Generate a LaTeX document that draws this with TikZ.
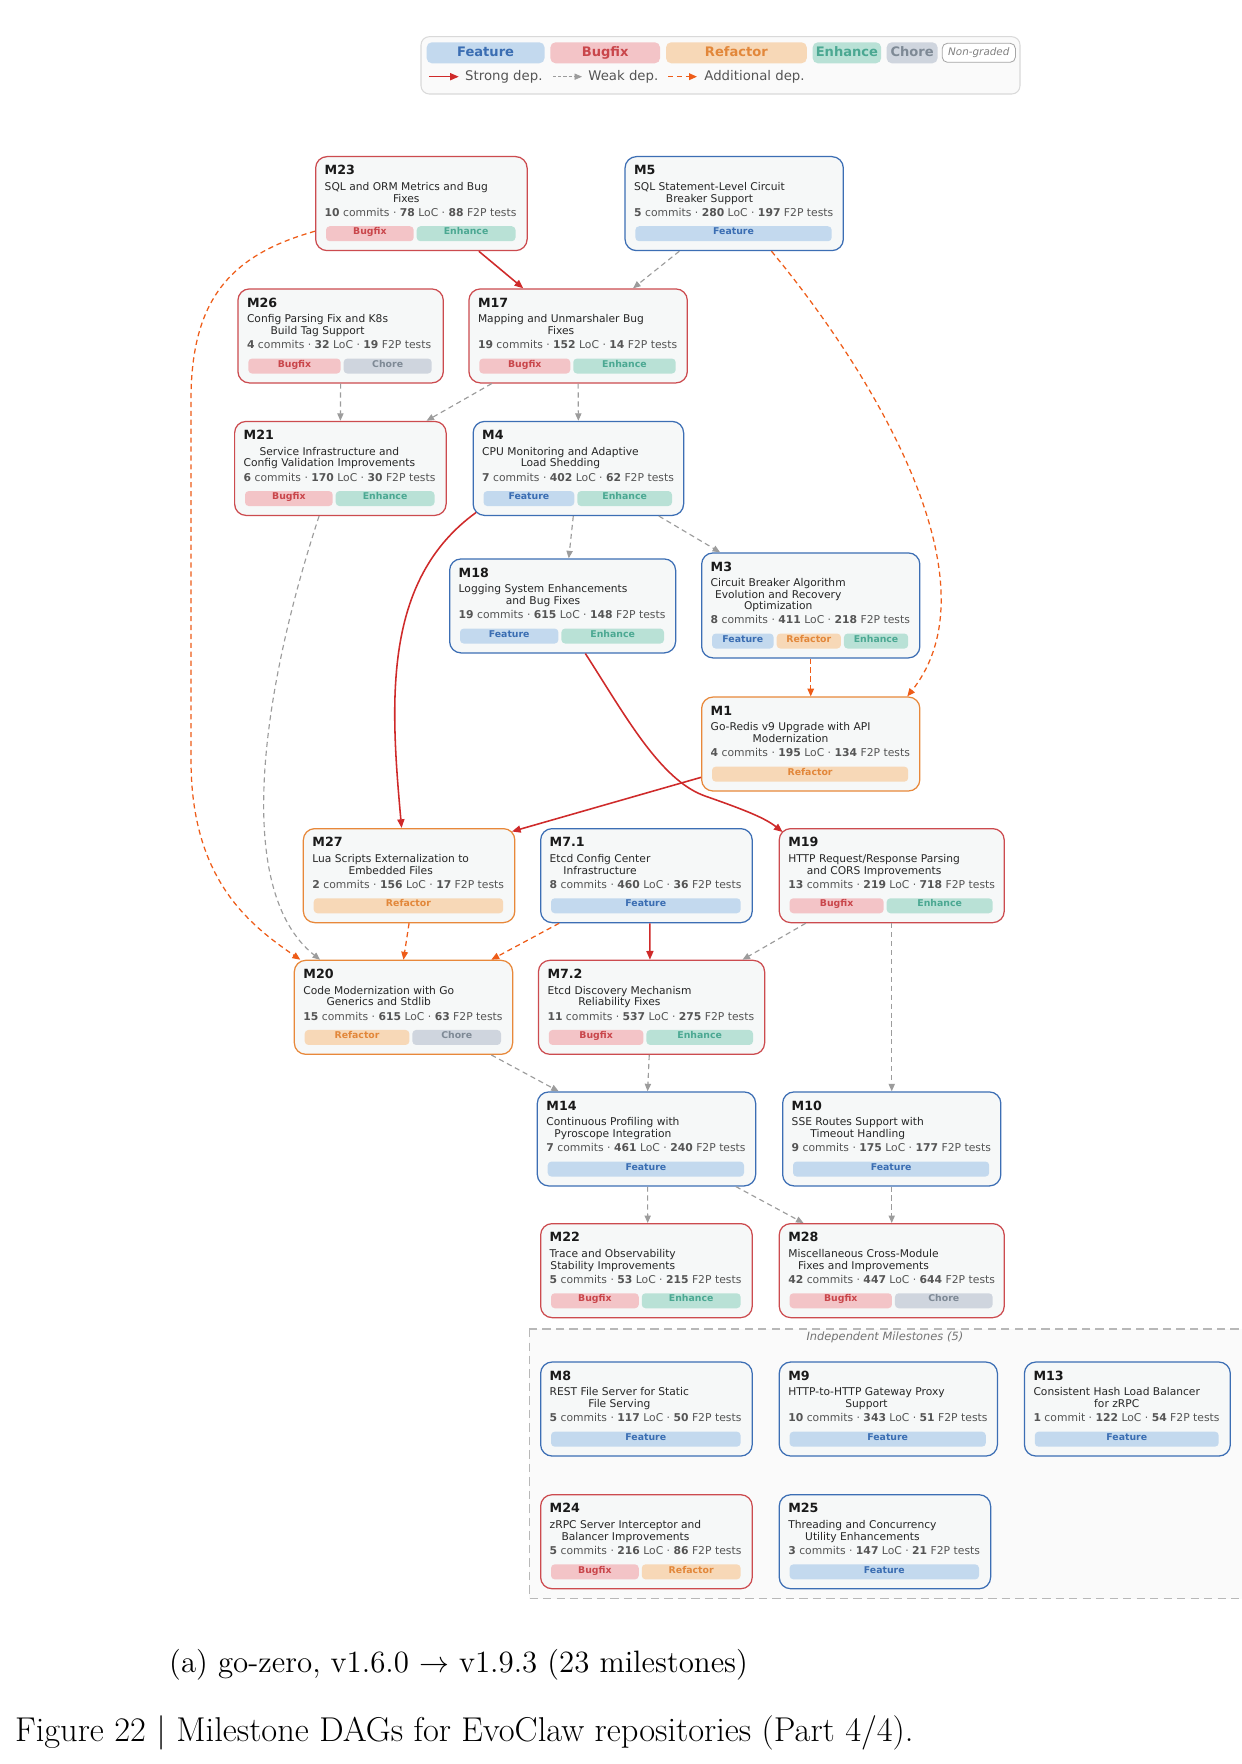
\documentclass[tikz,border=0pt]{standalone}
\usepackage{fontspec}
\newfontfamily\djv{DejaVu Sans}
\usetikzlibrary{arrows.meta,calc}

\definecolor{bFeature}{HTML}{3C6EB4}
\definecolor{bBugfix}{HTML}{CC4B4F}
\definecolor{bRefactor}{HTML}{E8883A}
\definecolor{fFeature}{HTML}{C3D9EE}
\definecolor{fBugfix}{HTML}{F3C4C7}
\definecolor{fRefactor}{HTML}{F7D8B7}
\definecolor{fEnhance}{HTML}{B9E1D6}
\definecolor{fChore}{HTML}{CFD5DE}
\definecolor{tFeature}{HTML}{3A6DB2}
\definecolor{tBugfix}{HTML}{C9464B}
\definecolor{tRefactor}{HTML}{E2873A}
\definecolor{tEnhance}{HTML}{4BA892}
\definecolor{tChore}{HTML}{7E8995}
\definecolor{boxfill}{HTML}{F6F8F8}
\definecolor{cStrong}{HTML}{CF2A2A}
\definecolor{cWeak}{HTML}{9C9C9C}
\definecolor{cAdd}{HTML}{EE5C18}
\definecolor{txtgray}{HTML}{555555}

\newcommand{\px}{0.4818pt}
\newcommand{\wFeature}{9.4}
\newcommand{\wBugfix}{8.7}
\newcommand{\wRefactor}{9.8}
\newcommand{\wEnhance}{9.8}
\newcommand{\wChore}{8.3}
\newcommand{\st}[4][commits]{\textbf{#2} #1 · \textbf{#3} LoC · \textbf{#4} F2P tests}
% height, name, top-left corner, width, kind, label, title, stats, tags
\newcommand{\milestone}[9][94]{%
  \node[msbox, draw=b#5, minimum width=#4*\px, minimum height=#1*\px] (#2) at (#3) {};
  \node[msid] at ([shift={(9.3,18.8)}]#2.north west) {#6};
  \node[mstitle] at ([shift={(9.3,34.5)}]#2.north west) {\begin{tabular}[t]{@{}c@{}}#7\end{tabular}};
  \node[msstat] at ([shift={(9.3,-34.8)}]#2.south west) {#8};
  \gdef\wsum{0}\gdef\ntags{0}%
  \foreach \tg in {#9}{\edef\wt{\csname w\tg\endcsname}\pgfmathparse{\wsum+\wt}\xdef\wsum{\pgfmathresult}\pgfmathparse{\ntags+1}\xdef\ntags{\pgfmathresult}}%
  \pgfmathsetmacro\avail{#4-22-3*(\ntags-1)}%
  \gdef\xpos{11}%
  \foreach \tg in {#9}{%
    \edef\wt{\csname w\tg\endcsname}%
    \pgfmathsetmacro\pw{\avail*\wt/\wsum}%
    \fill[pill=\tg] ([shift={(\xpos,-25)}]#2.south west) rectangle ++(\pw,15);
    \node[pilltext=\tg] at ([shift={({\xpos+\pw/2},-16.3)}]#2.south west) {\tg};
    \pgfmathparse{\xpos+\pw+3}\xdef\xpos{\pgfmathresult}}%
}

\begin{document}
\begin{tikzpicture}[x=0.4818pt, y=-0.4818pt,
  msbox/.style={rectangle, rounded corners=5.5pt, fill=boxfill, line width=0.6pt, anchor=north west, inner sep=0pt},
  msid/.style={anchor=base west, inner sep=0pt, font=\djv\bfseries\fontsize{6.1}{7}\selectfont, text=black!90},
  mstitle/.style={anchor=base west, inner sep=0pt, font=\djv\fontsize{5.15}{5.5}\selectfont, text=black!85},
  msstat/.style={anchor=base west, inner sep=0pt, font=\djv\fontsize{5.2}{6}\selectfont, text=txtgray},
  pill/.style={fill=f#1, rounded corners=1.8pt},
  pilltext/.style={anchor=base, inner sep=0pt, text=t#1, font=\djv\bfseries\fontsize{4.5}{5}\selectfont},
  legpill/.style={fill=f#1, text=t#1, rounded corners=2.5pt, minimum height=21*\px, inner sep=0pt, text height=4.6pt, text depth=1.2pt, font=\djv\bfseries\fontsize{6.3}{7}\selectfont},
  legtext/.style={anchor=west, inner sep=0pt, text=txtgray, font=\djv\fontsize{6.4}{7}\selectfont},
  sdep/.style={draw=cStrong, line width=0.75pt, -{Triangle[length=4.2pt,width=3.4pt]}},
  wdep/.style={draw=cWeak, line width=0.55pt, dash pattern=on 2.5pt off 1.8pt, -{Triangle[length=3.6pt,width=3pt]}},
  adep/.style={draw=cAdd, line width=0.6pt, dash pattern=on 2.5pt off 1.8pt, -{Triangle[length=3.8pt,width=3.2pt]}}]
\useasboundingbox[fill=white] (0,0) rectangle (1241,1764);

% legend
\draw[draw=black!15, fill=black!2, rounded corners=4pt, line width=0.5pt] (421,36.7) rectangle (1020,94);
\node[legpill=Feature, minimum width=117.9*\px] (lgFeature) at (485.6,52.8) {Feature};
\node[legpill=Bugfix, minimum width=109.7*\px] (lgBugfix) at (605.2,52.8) {Bugfix};
\node[legpill=Refactor, minimum width=140.8*\px] (lgRefactor) at (736.4,52.8) {Refactor};
\node[legpill=Enhance, minimum width=68.5*\px] (lgEnhance) at (846.9,52.8) {Enhance};
\node[legpill=Chore, minimum width=51*\px] (lgChore) at (912.1,52.8) {Chore};
\node[draw=black!35, fill=white, text=black!50, rounded corners=2.5pt, minimum width=73.2*\px, minimum height=19*\px, inner sep=0pt, font=\djv\itshape\fontsize{5}{6}\selectfont] (lgNone) at (978.8,52.8) {Non-graded};
\node[legtext] (lgStrong) at (464.8,76.7) {Strong dep.};
\node[legtext] (lgWeak) at (588,76.7) {Weak dep.};
\node[legtext] (lgAdd) at (704,76.7) {Additional dep.};
\draw[sdep] ([shift={(-36,0)}]lgStrong.west) -- ([shift={(-6,0)}]lgStrong.west);
\draw[wdep, line width=0.4pt, dash pattern=on 1.5pt off 1pt] ([shift={(-35,0)}]lgWeak.west) -- ([shift={(-6,0)}]lgWeak.west);
\draw[adep] ([shift={(-36,0)}]lgAdd.west) -- ([shift={(-7,0)}]lgAdd.west);

% independent milestones
\draw[draw=black!28, fill=black!2, dash pattern=on 4pt off 2.5pt, line width=0.5pt] (529.2,1329) rectangle (1262,1598.5);
\node[text=black!55, font=\djv\itshape\fontsize{5.5}{6}\selectfont] (indep) at (884.9,1337.5) {Independent Milestones (5)};

\milestone{m23}{315,156}{211.5}{Bugfix}{M23}{SQL and ORM Metrics and Bug\\Fixes}{\st{10}{78}{88}}{Bugfix,Enhance}
\milestone{m5}{624.4,156}{218.3}{Feature}{M5}{SQL Statement-Level Circuit\\Breaker Support}{\st{5}{280}{197}}{Feature}
\milestone{m26}{237.3,288.3}{205.4}{Bugfix}{M26}{Config Parsing Fix and K8s\\Build Tag Support}{\st{4}{32}{19}}{Bugfix,Chore}
\milestone{m17}{468.3,288.3}{218.4}{Bugfix}{M17}{Mapping and Unmarshaler Bug\\Fixes}{\st{19}{152}{14}}{Bugfix,Enhance}
\milestone{m21}{234,420.8}{211.5}{Bugfix}{M21}{Service Infrastructure and\\Config Validation Improvements}{\st{6}{170}{30}}{Bugfix,Enhance}
\milestone{m4}{472.5,420.8}{210.5}{Feature}{M4}{CPU Monitoring and Adaptive\\Load Shedding}{\st{7}{402}{62}}{Feature,Enhance}
\milestone{m18}{449,558.3}{226}{Feature}{M18}{Logging System Enhancements\\and Bug Fixes}{\st{19}{615}{148}}{Feature,Enhance}
\milestone[105]{m3}{701,552.3}{218.2}{Feature}{M3}{Circuit Breaker Algorithm\\Evolution and Recovery\\Optimization}{\st{8}{411}{218}}{Feature,Refactor,Enhance}
\milestone{m1}{701,696.4}{218.2}{Refactor}{M1}{Go-Redis v9 Upgrade with API\\Modernization}{\st{4}{195}{134}}{Refactor}
\milestone{m27}{302.7,828}{211.5}{Refactor}{M27}{Lua Scripts Externalization to\\Embedded Files}{\st{2}{156}{17}}{Refactor}
\milestone{m71}{540,828}{211.6}{Feature}{M7.1}{Etcd Config Center\\Infrastructure}{\st{8}{460}{36}}{Feature}
\milestone{m19}{778.6,828}{225}{Bugfix}{M19}{HTTP Request/Response Parsing\\and CORS Improvements}{\st{13}{219}{718}}{Bugfix,Enhance}
\milestone{m20}{293.7,959.7}{218.3}{Refactor}{M20}{Code Modernization with Go\\Generics and Stdlib}{\st{15}{615}{63}}{Refactor,Chore}
\milestone{m72}{537.8,959.7}{226.2}{Bugfix}{M7.2}{Etcd Discovery Mechanism\\Reliability Fixes}{\st{11}{537}{275}}{Bugfix,Enhance}
\milestone{m14}{536.7,1091.3}{218.3}{Feature}{M14}{Continuous Profiling with\\Pyroscope Integration}{\st{7}{461}{240}}{Feature}
\milestone{m10}{782,1091.3}{218.2}{Feature}{M10}{SSE Routes Support with\\Timeout Handling}{\st{9}{175}{177}}{Feature}
\milestone{m22}{540,1223}{211.6}{Bugfix}{M22}{Trace and Observability\\Stability Improvements}{\st{5}{53}{215}}{Bugfix,Enhance}
\milestone{m28}{778.6,1223}{225}{Bugfix}{M28}{Miscellaneous Cross-Module\\Fixes and Improvements}{\st{42}{447}{644}}{Bugfix,Chore}
\milestone{m8}{540,1361.4}{211.6}{Feature}{M8}{REST File Server for Static\\File Serving}{\st{5}{117}{50}}{Feature}
\milestone{m9}{778.6,1361.4}{218.2}{Feature}{M9}{HTTP-to-HTTP Gateway Proxy\\Support}{\st{10}{343}{51}}{Feature}
\milestone{m13}{1023.8,1361.4}{205.9}{Feature}{M13}{Consistent Hash Load Balancer\\for zRPC}{\st[commit]{1}{122}{54}}{Feature}
\milestone{m24}{540,1494.1}{211.6}{Bugfix}{M24}{zRPC Server Interceptor and\\Balancer Improvements}{\st{5}{216}{86}}{Bugfix,Refactor}
\milestone{m25}{778.6,1494.1}{211.4}{Feature}{M25}{Threading and Concurrency\\Utility Enhancements}{\st{3}{147}{21}}{Feature}

% dependencies
\draw[sdep] ($(m23.south west)!.77!(m23.south east)$) -- ($(m17.north west)!.25!(m17.north east)$);
\draw[wdep] ($(m5.south west)!.25!(m5.south east)$) -- ($(m17.north west)!.75!(m17.north east)$);
\draw[adep] ($(m5.south west)!.67!(m5.south east)$) .. controls (870,370) and (1000,580) .. ($(m1.north west)!.94!(m1.north east)$);
\draw[adep] ($(m23.north west)!.79!(m23.south west)$) .. controls (230,255) and (191,300) .. (191,400) -- (191,760) .. controls (191,880) and (250,925) .. ($(m20.north west)!.03!(m20.north east)$);
\draw[wdep] (m26.south) -- (m21.north);
\draw[wdep] ($(m17.south west)!.107!(m17.south east)$) -- ($(m21.north west)!.905!(m21.north east)$);
\draw[wdep] (m17.south) -- (m4.north);
\draw[wdep] ($(m21.south west)!.4!(m21.south east)$) .. controls (262,690) and (232,890) .. ($(m20.north west)!.12!(m20.north east)$);
\draw[sdep] ([shift={(3.5,-3.5)}]m4.south west) .. controls (383,580) and (390,700) .. ($(m27.north west)!.465!(m27.north east)$);
\draw[wdep] ($(m4.south west)!.476!(m4.south east)$) -- ($(m18.north west)!.527!(m18.north east)$);
\draw[wdep] ($(m4.south west)!.88!(m4.south east)$) -- ($(m3.north west)!.087!(m3.north east)$);
\draw[adep] (m3.south) -- (m1.north);
\draw[sdep] ($(m18.south west)!.6!(m18.south east)$) .. controls (625,715) and (660,780) .. (705,796) .. controls (745,810) and (765,818) .. ([shift={(4,4)}]m19.north west);
\draw[sdep] ($(m1.north west)!.85!(m1.south west)$) -- ([shift={(-3.5,3.5)}]m27.north east);
\draw[adep] (m27.south) -- (m20.north);
\draw[adep] ($(m71.south west)!.09!(m71.south east)$) -- ($(m20.north west)!.9!(m20.north east)$);
\draw[sdep] ($(m71.south west)!.516!(m71.south east)$) -- ($(m72.north west)!.493!(m72.north east)$);
\draw[wdep] ($(m19.south west)!.12!(m19.south east)$) -- ($(m72.north west)!.9!(m72.north east)$);
\draw[wdep] (m19.south) -- (m10.north);
\draw[wdep] ($(m20.south west)!.9!(m20.south east)$) -- ($(m14.north west)!.1!(m14.north east)$);
\draw[wdep] ($(m72.south west)!.49!(m72.south east)$) -- ($(m14.north west)!.505!(m14.north east)$);
\draw[wdep] ($(m14.south west)!.505!(m14.south east)$) -- ($(m22.north west)!.506!(m22.north east)$);
\draw[wdep] ($(m14.south west)!.907!(m14.south east)$) -- ($(m28.north west)!.11!(m28.north east)$);
\draw[wdep] (m10.south) -- (m28.north);

% captions
\node[anchor=base west, inner sep=0pt, font=\fontsize{14.9}{17}\selectfont] (subcap) at (168.8,1672) {(a) go-zero, v1.6.0 $\rightarrow$ v1.9.3 (23 milestones)};
\node[anchor=base west, inner sep=0pt, font=\fontsize{16.6}{19}\selectfont] (figcap) at (14.6,1741) {Figure 22 | Milestone DAGs for EvoClaw repositories (Part 4/4).};
\end{tikzpicture}
\end{document}
